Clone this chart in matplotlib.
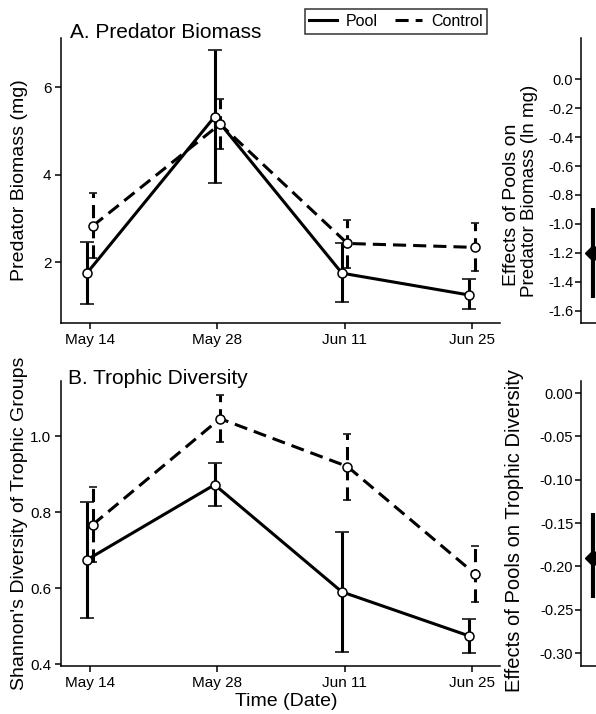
import numpy as np
import matplotlib.pyplot as plt
from matplotlib.lines import Line2D

plt.rcParams['font.family'] = ['Liberation Sans', 'DejaVu Sans']
plt.rcParams['axes.unicode_minus'] = False

# --- Data ---
dates = ["May 14", "May 28", "Jun 11", "Jun 25"]
days = np.array([0, 14, 28, 42])

# Predator biomass (mg)
pool_bio = [1.76, 5.33, 1.75, 1.25]
pool_bio_lo = [1.05, 3.81, 1.10, 0.93]
pool_bio_hi = [2.47, 6.85, 2.43, 1.61]
ctrl_bio = [2.83, 5.16, 2.43, 2.34]
ctrl_bio_lo = [2.10, 4.60, 1.86, 1.79]
ctrl_bio_hi = [3.59, 5.73, 2.97, 2.90]

# Trophic diversity (Shannon)
pool_div = [0.675, 0.872, 0.590, 0.474]
pool_div_lo = [0.522, 0.815, 0.433, 0.428]
pool_div_hi = [0.826, 0.929, 0.747, 0.520]
ctrl_div = [0.767, 1.046, 0.920, 0.638]
ctrl_div_lo = [0.670, 0.984, 0.833, 0.564]
ctrl_div_hi = [0.866, 1.109, 1.005, 0.710]

# Effects of pools
eff_bio, eff_bio_lo, eff_bio_hi = -1.20, -1.51, -0.89
eff_div, eff_div_lo, eff_div_hi = -0.19, -0.236, -0.138

W, H = 596, 714
fig = plt.figure(figsize=(W / 100, H / 100), dpi=100)

LW = 2.2
DASH = (4.3, 2.3)


def fx(px):
    return px / W


def fy(py):
    return 1 - py / H


def series(ax, x, y, lo, hi, dashed):
    y = np.array(y)
    err = [y - np.array(lo), np.array(hi) - y]
    eb = ax.errorbar(x, y, yerr=err, color='black', lw=LW, elinewidth=LW,
                     capsize=3 if dashed else 5, capthick=LW,
                     marker='o', ms=6.5, mfc='white', mec='black', mew=1.1,
                     zorder=3)
    if dashed:
        eb[0].set_dashes(DASH)
        eb[2][0].set_linestyle((0, DASH))
    return eb


def style_main(ax, ylim):
    ax.set_xlim(-3.19, 45.08)
    ax.set_ylim(*ylim)
    ax.set_xticks(days)
    ax.set_xticklabels(dates)
    for s in ['top', 'right']:
        ax.spines[s].set_visible(False)
    for s in ['left', 'bottom']:
        ax.spines[s].set_linewidth(1.1)
    ax.tick_params(direction='out', length=4, width=1.1, labelsize=11,
                   colors='black', pad=3)


def style_eff(ax, ylim, ticks, fmt):
    ax.set_xlim(0, 2)
    ax.set_ylim(*ylim)
    ax.set_xticks([])
    ax.set_yticks(ticks)
    ax.set_yticklabels([fmt % t for t in ticks])
    for s in ['top', 'right']:
        ax.spines[s].set_visible(False)
    for s in ['left', 'bottom']:
        ax.spines[s].set_linewidth(1.1)
    ax.tick_params(direction='out', length=4, width=1.1, labelsize=10.5,
                   colors='black', pad=1.5)


# --- Panel A ---
axA = fig.add_axes([fx(61), fy(323), fx(500) - fx(61), fy(38) - fy(323)])
series(axA, days - 0.3, pool_bio, pool_bio_lo, pool_bio_hi, False)
series(axA, days + 0.3, ctrl_bio, ctrl_bio_lo, ctrl_bio_hi, True)
style_main(axA, (0.61, 7.13))
axA.set_yticks([2, 4, 6])

# --- Panel B ---
axB = fig.add_axes([fx(61), fy(666), fx(500) - fx(61), fy(381) - fy(666)])
series(axB, days - 0.3, pool_div, pool_div_lo, pool_div_hi, False)
series(axB, days + 0.3, ctrl_div, ctrl_div_lo, ctrl_div_hi, True)
style_main(axB, (0.395, 1.145))
axB.set_yticks([0.4, 0.6, 0.8, 1.0])
axB.set_yticklabels(["0.4", "0.6", "0.8", "1.0"])

# --- Effect panels ---
eA = fig.add_axes([fx(581), fy(323), 0.04, fy(38) - fy(323)])
eA.errorbar([1], [eff_bio], yerr=[[eff_bio - eff_bio_lo], [eff_bio_hi - eff_bio]],
            color='black', lw=3, elinewidth=3, capsize=0, marker='D', ms=8)
style_eff(eA, (-1.683, 0.283), np.round(np.arange(0, -1.61, -0.2), 1), "%.1f")

eB = fig.add_axes([fx(581), fy(666), 0.04, fy(381) - fy(666)])
eB.errorbar([1], [eff_div], yerr=[[eff_div - eff_div_lo], [eff_div_hi - eff_div]],
            color='black', lw=3, elinewidth=3, capsize=0, marker='D', ms=8)
style_eff(eB, (-0.315, 0.014), np.round(np.arange(0, -0.301, -0.05), 2), "%.2f")

# --- Text ---
fig.text(fx(70), fy(38), "A. Predator Biomass", fontsize=15, va='baseline')
fig.text(fx(68), fy(384), "B. Trophic Diversity", fontsize=15, va='baseline')
fig.text(fx(20), fy(180), "Predator Biomass (mg)", fontsize=14, rotation=90,
         ha='center', va='center')
fig.text(fx(20), fy(523), "Shannon's Diversity of Trophic Groups", fontsize=14,
         rotation=90, ha='center', va='center')
fig.text(fx(286), fy(702), "Time (Date)", fontsize=14, ha='center', va='center')
fig.text(fx(512), fy(205), "Effects of Pools on", fontsize=14, rotation=90,
         ha='center', va='center')
fig.text(fx(529), fy(191), "Predator Biomass (ln mg)", fontsize=13.5, rotation=90,
         ha='center', va='center')
fig.text(fx(515), fy(531), "Effects of Pools on Trophic Diversity", fontsize=14.5,
         rotation=90, ha='center', va='center')

handles = [Line2D([], [], color='black', lw=LW),
           Line2D([], [], color='black', lw=LW, dashes=DASH)]
leg = fig.legend(handles, ["Pool", "Control"], loc='center',
                 bbox_to_anchor=(fx(396), fy(21.5)), ncol=2, fontsize=11.5,
                 frameon=True, fancybox=False, edgecolor='black',
                 handlelength=1.7, columnspacing=1.1, handletextpad=0.55,
                 borderpad=0.3, borderaxespad=0)
leg.get_frame().set_linewidth(1.1)

fig.savefig("out.png", dpi=100)
